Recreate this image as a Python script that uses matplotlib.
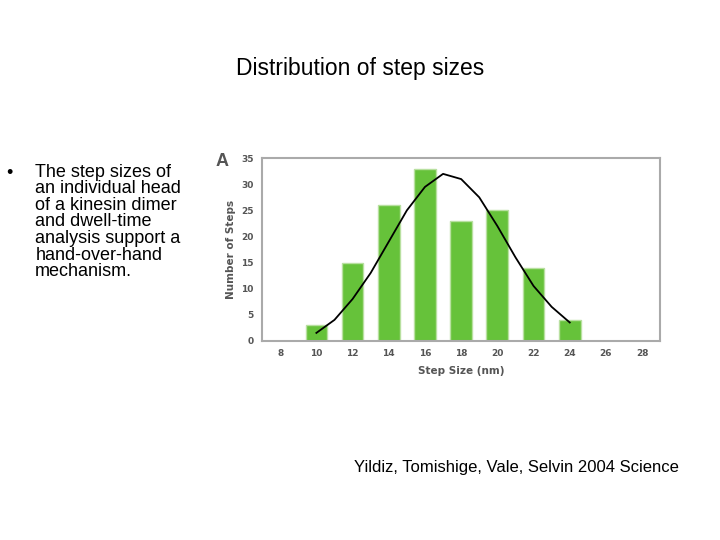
import matplotlib
matplotlib.use("Agg")
import matplotlib.pyplot as plt

step_sizes = [10, 12, 14, 16, 18, 20, 22, 24]
counts = [3, 15, 26, 33, 23, 25, 14, 4]
fit_x = [10, 11, 12, 13, 14, 15, 16, 17, 18, 19, 20, 21, 22, 23, 24]
fit_y = [1.5, 4, 8, 13, 19, 25, 29.5, 32, 31, 27.5, 22, 16, 10.5, 6.5, 3.5]
xticks = [8, 10, 12, 14, 16, 18, 20, 22, 24, 26, 28]
yticks = [0, 5, 10, 15, 20, 25, 30, 35]

fig = plt.figure(figsize=(7.2, 5.4), dpi=100)
fig.text(0.5, 0.873, "Distribution of step sizes", ha="center", va="center", fontsize=16.5, family="Liberation Sans")
fig.text(0.008, 0.678, "•", fontsize=13, family="Liberation Sans", va="center")
fig.text(0.049, 0.697, "The step sizes of\nan individual head\nof a kinesin dimer\nand dwell-time\nanalysis support a\nhand-over-hand\nmechanism.",
         fontsize=13, family="Liberation Sans", va="top", linespacing=0.97)
fig.text(0.943, 0.134, "Yildiz, Tomishige, Vale, Selvin 2004 Science", ha="right", va="center", fontsize=12, family="Liberation Sans")
fig.text(0.300, 0.700, "A", fontsize=13, fontweight="bold", color="#555555", family="Liberation Sans", va="center")

ax = fig.add_axes([0.364, 0.369, 0.553, 0.338])
ax.bar(step_sizes, counts, width=1.2, color="#66c23a", edgecolor="#b8e0a0", linewidth=1.0, zorder=2)
ax.plot(fit_x, fit_y, color="black", lw=1.3, zorder=3, solid_joinstyle="round")
ax.set_xlim(7, 29)
ax.set_ylim(0, 35)
ax.set_xticks(xticks)
ax.set_yticks(yticks)
ax.tick_params(length=0, labelsize=6.5, colors="#555555", pad=6)
for l in ax.get_xticklabels() + ax.get_yticklabels():
    l.set_fontweight("bold")
for s in ax.spines.values():
    s.set_color("#aaaaaa")
    s.set_linewidth(1.5)
ax.set_xlabel("Step Size (nm)", fontsize=7.5, fontweight="bold", color="#555555", labelpad=6)
ax.set_ylabel("Number of Steps", fontsize=7.5, fontweight="bold", color="#555555", labelpad=4)
fig.savefig("out.png", dpi=100)
